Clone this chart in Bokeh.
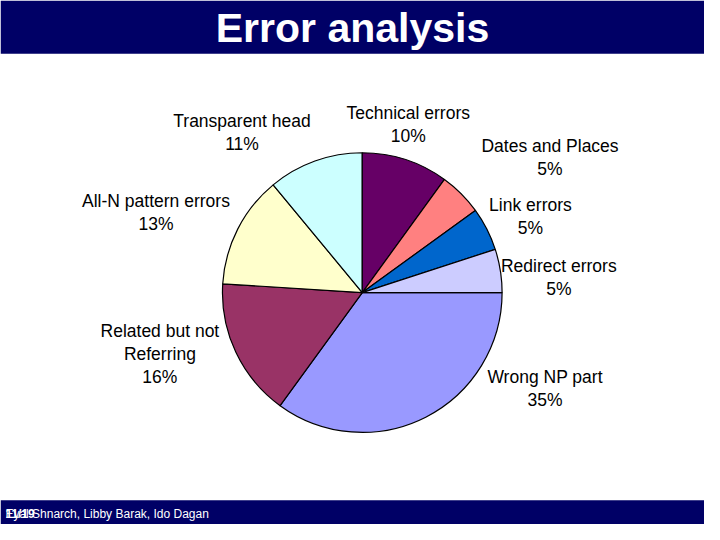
import math
from bokeh.plotting import figure
from bokeh.models import Range1d, ColumnDataSource
from bokeh.core.properties import value
from bokeh.embed import file_html
from bokeh.resources import INLINE

# ---- data ----
categories = ["Wrong NP part", "Related but not\nReferring", "All-N pattern errors",
              "Transparent head", "Technical errors", "Dates and Places",
              "Link errors", "Redirect errors"]
percents = [35, 16, 13, 11, 10, 5, 5, 5]
colors = ["#9999FF", "#993366", "#FFFFCC", "#CCFFFF", "#660066", "#FF8080",
          "#0066CC", "#CCCCFF"]
title_text = "Error analysis"
footer_text = "Eyal Shnarch, Libby Barak, Ido Dagan"
page_text = "11/19"

# ---- layout (slide coordinates 720x540; y measured from top) ----
W, H = 720, 540
CX, CY, R = 370, 301, 143
label_pos = [(557, 400), (163, 364), (159, 218), (247, 136), (417, 128),
             (562, 162), (542, 223), (571, 285)]
NAVY = "#000066"
FONT = "Liberation Sans"


def Y(y):
    return H - y


p = figure(width=704, height=524, output_backend="svg", toolbar_location=None,
           x_range=Range1d(0, W), y_range=Range1d(0, H),
           min_border=0, outline_line_color=None)
p.axis.visible = False
p.grid.visible = False
p.background_fill_color = "white"
p.border_fill_color = "white"

# bars
p.quad(left=[0], right=[W], bottom=[Y(55)], top=[Y(0)], fill_color=NAVY, line_color=None)
p.quad(left=[0], right=[W], bottom=[Y(540)], top=[Y(515)], fill_color=NAVY, line_color=None)

# pie
total = sum(percents)
starts, ends = [], []
acc = 0.0
for v in percents:
    starts.append(-2 * math.pi * acc / total)
    acc += v
    ends.append(-2 * math.pi * acc / total)
src = ColumnDataSource(dict(start=starts, end=ends, color=colors))
p.wedge(x=CX, y=Y(CY), radius=R, start_angle="start", end_angle="end",
        direction="clock", fill_color="color", line_color="black", line_width=1.2,
        source=src)

# labels
labels = [f"{c}\n{v}%" for c, v in zip(categories, percents)]
lsrc = ColumnDataSource(dict(x=[q[0] for q in label_pos], y=[Y(q[1]) for q in label_pos],
                             text=labels))
p.text(x="x", y="y", text="text", source=lsrc, text_align="center",
       text_baseline="middle", text_font=value(FONT), text_font_size="17.5px",
       text_color="black", text_line_height=1.15)

# title
p.text(x=[360], y=[Y(28)], text=[title_text], text_align="center", text_baseline="middle",
       text_font=value(FONT), text_font_size="41px", text_font_style="bold",
       text_color="white")

# footer
p.text(x=[5], y=[Y(529)], text=[footer_text], text_align="left", text_baseline="middle",
       text_font=value(FONT), text_font_size="12px", text_color="white")
p.text(x=[5], y=[Y(529)], text=[page_text], text_align="left", text_baseline="middle",
       text_font=value(FONT), text_font_size="12px", text_font_style="bold",
       text_color="white")

open("out.html", "w").write(file_html(p, INLINE))
